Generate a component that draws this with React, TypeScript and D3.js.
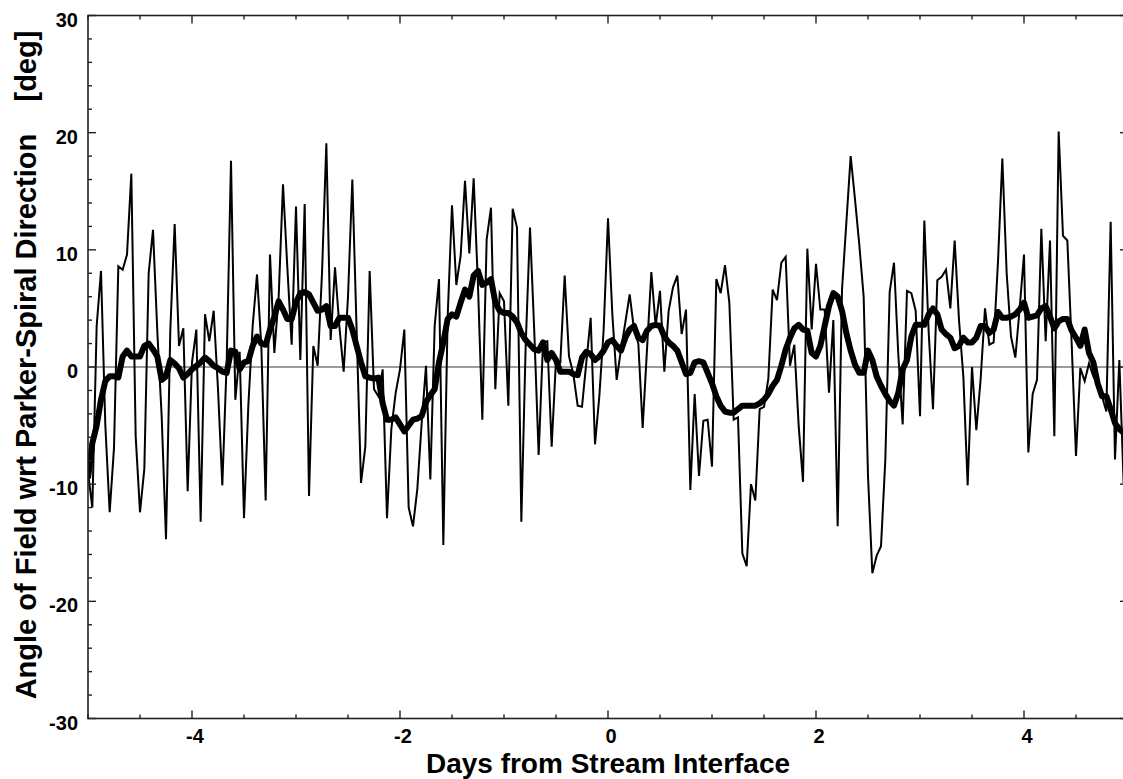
import React, { useRef, useEffect } from "react";
import * as d3 from "d3";

// hourly samples, starting at day -5
const rawAngle = [
  -9, -12.0, 3.5, 8.2, -5, -12.4, -6.9, 8.6, 8.3, 9.6,
  16.5, -5.9, -12.4, -8.7, 8.0, 11.7, 3, -4.2, -14.7, 3.2,
  12.2, 1.8, 3.3, -10.6, 0.4, 3.2, -13.2, 4.5, 2.2, 4.8,
  -1.9, -10.1, 0.4, 17.6, -2.8, 1.3, -12.9, -3.3, 3.5, 7.9,
  1.8, -11.4, 9.6, 1.2, 6, 15.6, 8.5, 1.9, 13.7, 0.6,
  13.9, -11.0, 1.8, 0.1, 8, 19.1, 2.3, 8.5, 3.5, -0.4,
  6, 16.0, 3, -9.9, -6.8, 8.2, -1.9, -2.5, -0.2, -12.9,
  -5.3, -2.2, -0.2, 3.2, -12.0, -13.6, -10.4, -4.8, 0.1, -9.6,
  3.5, 7.5, -15.2, 4.3, 13.8, 7.0, 9.5, 15.9, 9.7, 16.1,
  6.9, -4.5, 10.9, 13.6, -1.9, 6.3, 5.6, -3.3, 13.5, 11.9,
  -13.2, 1.8, 11.9, 2.9, -7.5, 2.1, 2.2, -6.8, 0.6, 0.4,
  7.8, 0.9, -0.6, -3.3, -3.4, 0.4, 4.2, -6.6, -2.5, 3.2,
  12.7, 4.5, -1.1, 1.5, 3.8, 6.2, 3.2, 2.0, -5.2, 1.5,
  8.1, 3.5, 6.5, -0.4, 4.8, 6.8, 7.8, 2.8, 4.9, -10.5,
  -2.3, -9.3, -4.6, -4.5, -8.5, 7.5, 6.3, 8.7, 5.5, -4.5,
  -4.3, -15.9, -17.0, -10.0, -11.4, -3.6, -3.4, -1.0, 6.6, 5.7,
  8.9, 9.4, 0.1, 1.9, -5, -9.8, 10.1, 3.2, 8.8, 4.9,
  4.9, -2.2, 4.0, -13.6, 6.6, 12.3, 18.0, 14.3, 10.4, 6.0,
  -9.3, -17.6, -16.1, -15.3, -7.9, 6.4, 8.9, 1, -4.9, 6.5,
  6.3, 4.8, -4.2, 12.5, 3, -3.6, 7.4, 7.7, 8.3, 5.0,
  10.8, 4, -0.8, -10.1, 0, -5.4, -1, 5.0, 1.9, 2.1,
  9, 17.8, 8, 2.6, 0.8, 5, 9.6, -7.3, -2.3, -1.1,
  11.8, 2.2, 10.8, -5.9, 20.1, 11.2, 10.8, 2, -7.6, -0.1,
  -1.2, 0.3, -0.8, -1.5, -2.5, -3.8, 12.4, -7.9, 0.6, -10, -6,
];

const smoothAngle = [
  -9.5, -6.5, -5.0, -2.8, -1.2, -0.8, -0.8, -0.9, 0.9, 1.4,
  0.9, 0.9, 0.9, 1.8, 2.0, 1.5, 0.9, -1.1, -0.8, 0.6,
  0.3, -0.1, -0.9, -0.6, -0.2, 0.1, 0.4, 0.8, 0.5, 0.1,
  -0.1, -0.4, -0.5, 1.4, 1.3, -0.2, 0.4, 0.5, 1.8, 2.6,
  2.0, 1.9, 3.2, 4.3, 5.6, 4.9, 4.1, 4.1, 5.5, 6.3,
  6.4, 6.2, 5.5, 4.8, 4.9, 5.2, 3.5, 3.5, 4.2, 4.2,
  4.2, 3.2, 1.8, 0.4, -0.8, -0.9, -1.0, -0.9, -3.1, -4.5,
  -4.5, -4.3, -4.9, -5.5, -5.0, -4.5, -4.4, -4.2, -3.0, -2.4,
  -1.9, 0.4, 2.1, 4.1, 4.5, 4.3, 5.5, 6.6, 6.0, 7.8,
  8.2, 7.0, 7.2, 7.5, 5.5, 4.8, 4.6, 4.6, 4.3, 3.8,
  2.9, 2.3, 1.9, 1.5, 1.4, 2.1, 0.6, 1.2, 0.6, -0.4,
  -0.4, -0.4, -0.6, -0.7, 0.8, 1.3, 1.1, 0.6, 0.9, 1.4,
  2.1, 2.3, 1.8, 1.4, 2.5, 3.2, 3.5, 2.5, 2.3, 3.1,
  3.5, 3.6, 3.5, 2.6, 2.1, 1.8, 1.4, 0.4, -0.6, -0.5,
  0.4, 0.5, 0.4, -0.5, -1.4, -2.5, -3.3, -3.8, -3.9, -3.9,
  -3.6, -3.3, -3.3, -3.3, -3.3, -3.1, -2.8, -2.3, -1.6, -1.1,
  0.1, 1.5, 2.5, 3.3, 3.6, 3.2, 3.1, 1.2, 0.9, 1.8,
  3.5, 5.2, 6.3, 6.0, 4.8, 2.9, 1.4, 0.2, -0.5, -0.5,
  1.4, 0.6, -0.8, -1.6, -2.3, -2.9, -3.3, -2.2, -0.2, 0.6,
  2.6, 3.6, 3.6, 3.6, 4.5, 5.0, 4.5, 3.2, 2.8, 2.5,
  1.6, 1.8, 2.5, 2.1, 2.1, 2.5, 3.5, 3.5, 2.9, 3.2,
  4.7, 4.2, 4.2, 4.3, 4.5, 4.9, 5.5, 4.2, 4.3, 4.4,
  5.0, 5.2, 4.3, 3.3, 3.9, 4.1, 4.1, 3.1, 2.5, 1.8,
  3.2, 1.2, 0.4, -1.4, -2.5, -2.5, -3.6, -4.8, -5.3, -5.6, -6,
];

const xMajorTicks = [-4, -2, 0, 2, 4];
const yMajorTicks = [-30, -20, -10, 0, 10, 20, 30];

const App = () => {
  const ref = useRef(null);
  const width = 1123;
  const height = 779;
  const margin = { top: 15.5, bottom: 60.5, left: 88, right: -5 };

  useEffect(() => {
    const svg = d3.select(ref.current);
    svg.selectAll("*").remove();

    const x = d3
      .scaleLinear()
      .domain([-5, 5])
      .range([margin.left, width - margin.right]);
    const y = d3
      .scaleLinear()
      .domain([-30, 30])
      .range([height - margin.bottom, margin.top]);

    const x0 = x(-5), x1 = x(5), y0 = y(-30), y1 = y(30);
    const font = "'Liberation Sans', Arial, Helvetica, sans-serif";

    svg
      .append("defs")
      .append("clipPath")
      .attr("id", "plot-clip")
      .append("rect")
      .attr("x", x0)
      .attr("y", y1)
      .attr("width", x1 - x0)
      .attr("height", y0 - y1);

    // zero line
    svg
      .append("line")
      .attr("x1", x0)
      .attr("x2", x1)
      .attr("y1", y(0))
      .attr("y2", y(0))
      .attr("stroke", "#7a7a7a")
      .attr("stroke-width", 1.5);

    const days = (i) => -5 + i / 24;
    const line = d3
      .line()
      .x((d, i) => x(days(i)))
      .y((d) => y(d));

    const plot = svg.append("g").attr("clip-path", "url(#plot-clip)");
    plot
      .append("path")
      .datum(rawAngle)
      .attr("d", line)
      .attr("fill", "none")
      .attr("stroke", "#000")
      .attr("stroke-width", 2)
      .attr("stroke-linejoin", "miter");
    plot
      .append("path")
      .datum(smoothAngle)
      .attr("d", line)
      .attr("fill", "none")
      .attr("stroke", "#000")
      .attr("stroke-width", 6)
      .attr("stroke-linejoin", "round");

    // frame and ticks
    const axisColor = "#222";
    svg
      .append("rect")
      .attr("x", x0)
      .attr("y", y1)
      .attr("width", x1 - x0)
      .attr("height", y0 - y1)
      .attr("fill", "none")
      .attr("stroke", axisColor)
      .attr("stroke-width", 1.6);

    const xAll = d3.range(-5, 5.001, 0.5);
    const yAll = d3.range(-30, 30.001, 2);
    const ticks = svg.append("g").attr("stroke", axisColor).attr("stroke-width", 1.4);
    xAll.forEach((v) => {
      const len = xMajorTicks.includes(v) ? 8 : 4;
      ticks.append("line").attr("x1", x(v)).attr("x2", x(v)).attr("y1", y0).attr("y2", y0 - len);
      ticks.append("line").attr("x1", x(v)).attr("x2", x(v)).attr("y1", y1).attr("y2", y1 + len);
    });
    yAll.forEach((v) => {
      const len = yMajorTicks.includes(v) ? 8 : 4;
      ticks.append("line").attr("x1", x0).attr("x2", x0 + len).attr("y1", y(v)).attr("y2", y(v));
      ticks.append("line").attr("x1", x1).attr("x2", x1 - len).attr("y1", y(v)).attr("y2", y(v));
    });

    // tick labels
    svg
      .append("g")
      .selectAll("text")
      .data(xMajorTicks)
      .join("text")
      .attr("x", (d) => x(d) + 3)
      .attr("y", y0 + 24)
      .attr("text-anchor", "middle")
      .attr("font-family", font)
      .attr("font-weight", "bold")
      .attr("font-size", 20)
      .text((d) => d);

    svg
      .append("g")
      .selectAll("text")
      .data(yMajorTicks)
      .join("text")
      .attr("x", x0 - 10)
      .attr("y", (d) => y(d) + 11)
      .attr("text-anchor", "end")
      .attr("font-family", font)
      .attr("font-weight", "bold")
      .attr("font-size", 20)
      .text((d) => d);

    // axis titles
    svg
      .append("text")
      .attr("x", (x0 + x1) / 2)
      .attr("y", 773)
      .attr("text-anchor", "middle")
      .attr("font-family", font)
      .attr("font-weight", "bold")
      .attr("font-size", 28)
      .text("Days from Stream Interface");

    svg
      .append("text")
      .attr("transform", `translate(36, ${(y0 + y1) / 2 - 2}) rotate(-90)`)
      .attr("text-anchor", "middle")
      .attr("font-family", font)
      .attr("font-weight", "bold")
      .attr("font-size", 29)
      .attr("xml:space", "preserve")
      .style("white-space", "pre")
      .text("Angle of Field wrt Parker-Spiral Direction    [deg]");
  }, []);

  return (
    <svg
      ref={ref}
      width={width}
      height={height}
      style={{ position: "absolute", left: 0, top: 0, background: "#fff" }}
    ></svg>
  );
};

export default App;
